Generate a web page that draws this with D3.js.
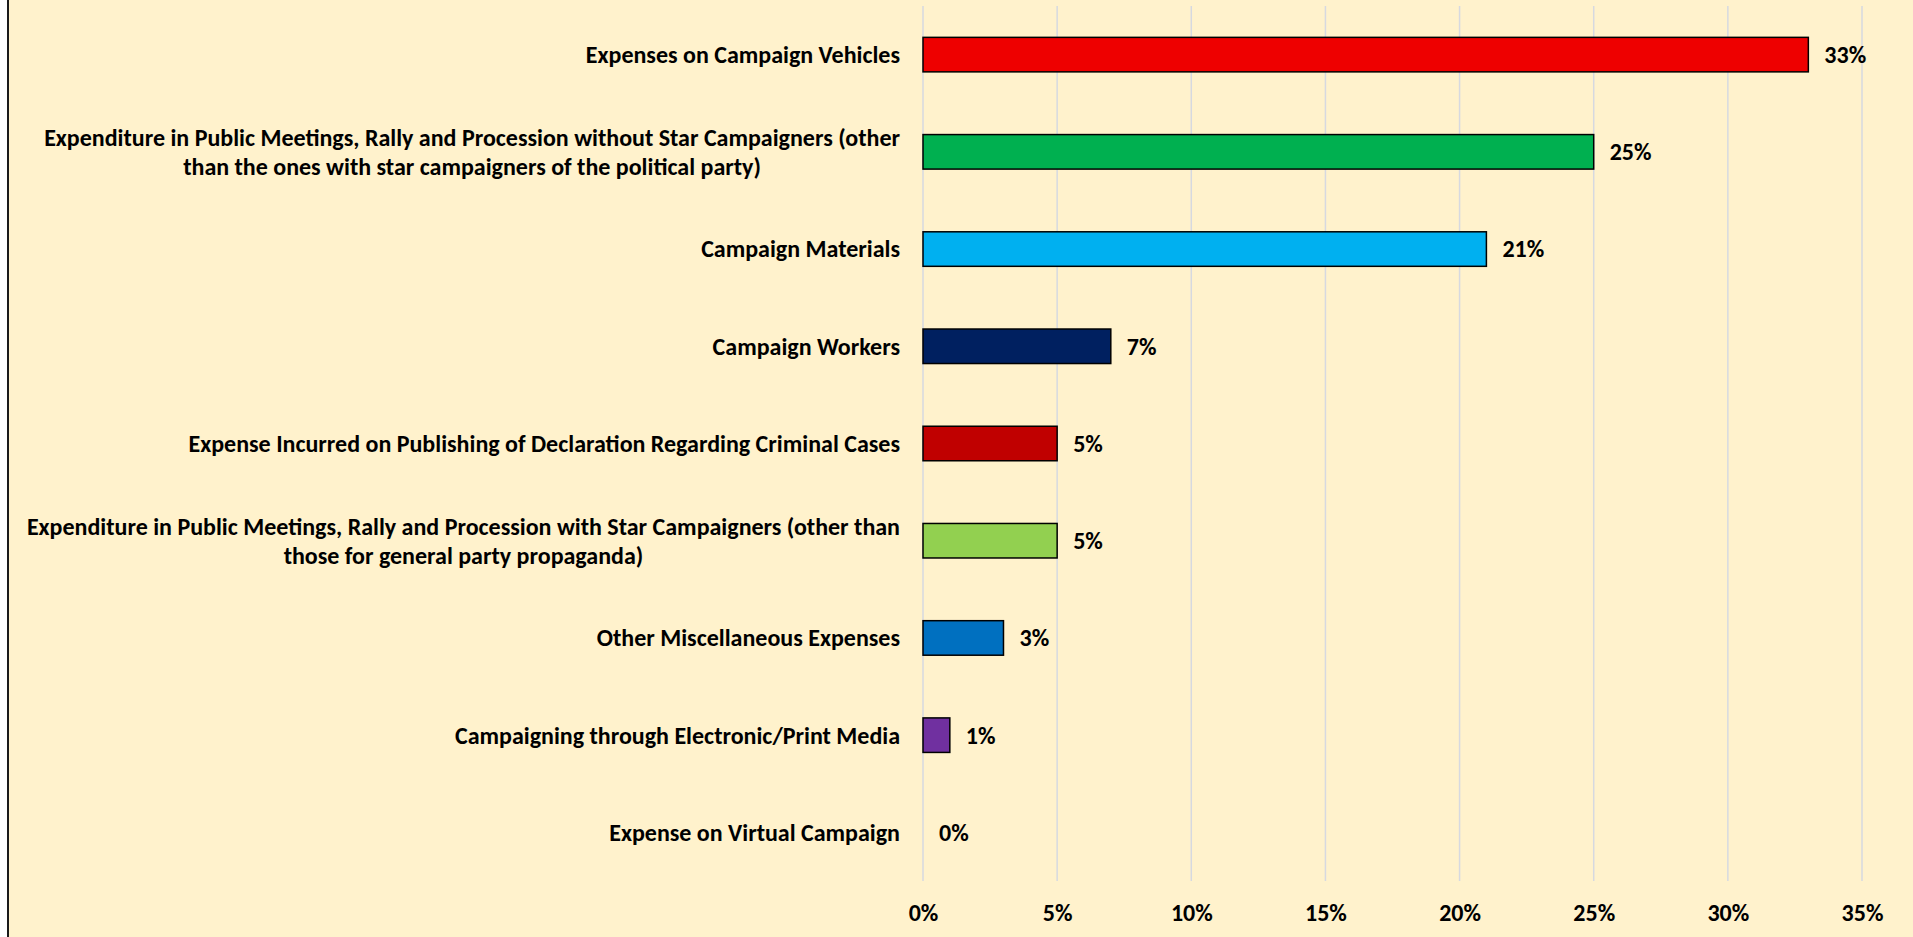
<!DOCTYPE html>
<html>
<head>
<meta charset="utf-8">
<script src="https://cdn.jsdelivr.net/npm/d3@7"></script>
<style>
  html, body { margin: 0; padding: 0; background: #ffffff; }
  svg { display: block; }
  text { font-family: Carlito, "Liberation Sans Narrow", Lato, "Open Sans", sans-serif; font-weight: bold; fill: #000; }
</style>
</head>
<body>
<svg id="chart" width="1913" height="937"></svg>
<script>
const categories = [
  "Expenses on Campaign Vehicles",
  "Expenditure in Public Meetings, Rally and Procession without Star Campaigners (other\nthan the ones with star campaigners of the political party)",
  "Campaign Materials",
  "Campaign Workers",
  "Expense Incurred on Publishing of Declaration Regarding Criminal Cases",
  "Expenditure in Public Meetings, Rally and Procession with Star Campaigners (other than\nthose for general party propaganda)",
  "Other Miscellaneous Expenses",
  "Campaigning through Electronic/Print Media",
  "Expense on Virtual Campaign"
];
const values = [33, 25, 21, 7, 5, 5, 3, 1, 0];
const barColors = ["#EE0000", "#00B050", "#00B0F0", "#002060", "#C00000", "#92D050", "#0070C0", "#7030A0", "#A5A5A5"];
const tickValues = [0, 5, 10, 15, 20, 25, 30, 35];

const svg = d3.select("#chart");
const W = 1913, H = 937;

svg.append("rect").attr("x", 8).attr("y", 0).attr("width", W - 8).attr("height", H).attr("fill", "#FFF2CC");
svg.append("line").attr("x1", 8).attr("x2", 8).attr("y1", 0).attr("y2", H)
  .attr("stroke", "#1a1a1a").attr("stroke-width", 2);

const x = d3.scaleLinear().domain([0, 35]).range([923, 1862]);
const y = d3.scaleBand().domain(d3.range(categories.length)).range([6, 881]).paddingInner(0.645).paddingOuter(0.3225);

const fontSize = 24;
const data = values.map((v, i) => ({ i, v, c: categories[i], color: barColors[i] }));

// gridlines
svg.append("g").selectAll("line").data(tickValues).join("line")
  .attr("x1", d => x(d)).attr("x2", d => x(d))
  .attr("y1", 6).attr("y2", 881)
  .attr("stroke", "#D6D9E0").attr("stroke-width", 1.5);

// bars
svg.append("g").selectAll("rect").data(data.filter(d => d.v > 0)).join("rect")
  .attr("x", x(0))
  .attr("y", d => y(d.i))
  .attr("width", d => x(d.v) - x(0))
  .attr("height", y.bandwidth())
  .attr("fill", d => d.color)
  .attr("stroke", "#000").attr("stroke-width", 1.5);

// value labels
svg.append("g").selectAll("text").data(data).join("text")
  .attr("x", d => x(d.v) + 16)
  .attr("y", d => y(d.i) + y.bandwidth() / 2)
  .attr("dy", "0.35em")
  .attr("font-size", fontSize)
  .text(d => d.v + "%");

// category labels
const labelRight = 900;
const lineH = 29;
const catG = svg.append("g");
data.forEach(d => {
  const lines = d.c.split("\n");
  const cy = y(d.i) + y.bandwidth() / 2;
  const t = catG.append("text").attr("font-size", fontSize);
  lines.forEach((ln, j) => {
    t.append("tspan").attr("y", cy + (j - (lines.length - 1) / 2) * lineH).attr("dy", "0.35em").text(ln);
  });
  if (lines.length === 1) {
    t.attr("text-anchor", "end").selectAll("tspan").attr("x", labelRight);
  } else {
    let maxW = 0;
    t.selectAll("tspan").each(function() { maxW = Math.max(maxW, this.getComputedTextLength()); });
    t.attr("text-anchor", "middle").selectAll("tspan").attr("x", labelRight - maxW / 2);
  }
});

// x axis
const axis = d3.axisBottom(x).tickValues(tickValues).tickFormat(d => d + "%").tickSize(0).tickPadding(0);
const ax = svg.append("g").attr("transform", "translate(0,913)").call(axis);
ax.select(".domain").remove();
ax.selectAll("text").attr("font-size", fontSize).attr("dy", "0.35em")
  .style("font-family", 'Carlito, "Liberation Sans Narrow", Lato, "Open Sans", sans-serif').style("font-weight", "bold").attr("fill", "#000");
</script>
</body>
</html>
